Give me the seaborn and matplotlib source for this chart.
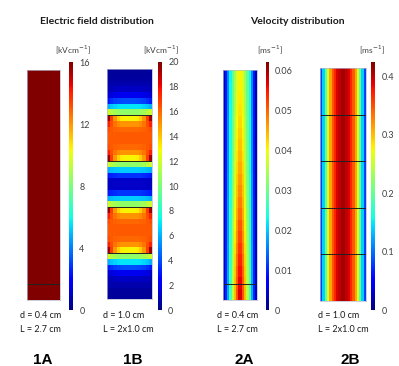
import numpy as np
import seaborn as sns
import matplotlib.pyplot as plt

# ---- data ----
# 1A: uniform field, d = 0.4 cm
field_1a = [16.0]
line_1a = [0.93]          # boundary line, fraction of channel length from top

# 1B: axial field along the channel (top -> bottom), centre line and wall
e1b_centre = [0.5, 0.6, 0.8, 1.2, 2.0, 4.0, 7.0, 10.5,
              13.0, 15.0, 16.0, 16.3, 16.3, 16.0, 15.0, 13.0,
              10.5, 6.5, 3.5, 1.3, 1.3, 3.5, 6.5, 10.5,
              13.0, 15.0, 16.0, 16.3, 16.3, 16.0, 15.0, 13.0,
              10.5, 7.0, 4.0, 2.0, 1.2, 0.8, 0.6, 0.5]
e1b_wall = [0.5, 0.6, 0.8, 1.0, 1.5, 3.0, 6.0, 12.0,
            19.5, 17.5, 16.5, 16.3, 16.3, 16.5, 17.5, 19.5,
            12.0, 6.0, 3.0, 1.2, 1.2, 3.0, 6.0, 12.0,
            19.5, 17.5, 16.5, 16.3, 16.3, 16.5, 17.5, 19.5,
            12.0, 6.0, 3.0, 1.5, 1.0, 0.8, 0.6, 0.5]
wall_weight_1b = [1.0, 0.6, 0.3, 0.12, 0.03, 0, 0, 0, 0, 0.03, 0.12, 0.3, 0.6, 1.0]
lines_1b = [0.2, 0.4, 0.6, 0.8]

# 2A: velocity profile across the channel, at the inlet (top) and outlet (bottom)
u2a_top = [0.003, 0.009, 0.016, 0.023, 0.029, 0.034, 0.038, 0.040,
           0.040, 0.038, 0.034, 0.029, 0.023, 0.016, 0.009, 0.003]
u2a_bottom = [0.004, 0.010, 0.018, 0.027, 0.036, 0.044, 0.051, 0.057,
              0.057, 0.051, 0.044, 0.036, 0.027, 0.018, 0.010, 0.004]
develop_2a = [0.0, 0.02, 0.05, 0.08, 0.12, 0.16, 0.2, 0.25, 0.3, 0.36,
              0.42, 0.48, 0.55, 0.62, 0.69, 0.76, 0.83, 0.9, 0.96, 1.0]
line_2a = [0.93]

# 2B: fully developed profile across the channel
u2b = [0.08, 0.14, 0.20, 0.26, 0.31, 0.345, 0.37, 0.39, 0.40, 0.41,
       0.41, 0.40, 0.39, 0.37, 0.345, 0.31, 0.26, 0.20, 0.14, 0.08]
lines_2b = [0.2, 0.4, 0.6, 0.8]

# ---- build 2D fields ----
w = np.array(wall_weight_1b)
grid_1a = np.array([field_1a])
grid_1b = np.outer(e1b_centre, 1 - w) + np.outer(e1b_wall, w)
s = np.array(develop_2a)
grid_2a = np.outer(1 - s, u2a_top) + np.outer(s, u2a_bottom)
grid_2b = np.tile(u2b, (10, 1))

W, H = 399, 366
fig = plt.figure(figsize=(W / 100, H / 100), dpi=100)
plt.rcParams['font.family'] = ['Lato', 'DejaVu Sans']
grey = '#404040'


def rect(x0, y0, x1, y1):
    return [x0 / W, 1 - y1 / H, (x1 - x0) / W, (y1 - y0) / H]


panels = [
    (grid_1a, line_1a, 0, 16, [0, 4, 8, 12, 16], rect(27, 70, 60, 300), rect(69, 62, 73, 310)),
    (grid_1b, lines_1b, 0, 20, list(range(0, 21, 2)), rect(107, 69, 152, 299), rect(158, 62, 162, 310)),
    (grid_2a, line_2a, 0, 0.062, [0, 0.01, 0.02, 0.03, 0.04, 0.05, 0.06], rect(223, 70, 257, 300), rect(266, 62, 269, 310)),
    (grid_2b, lines_2b, 0, 0.424, [0, 0.1, 0.2, 0.3, 0.4], rect(320, 68, 366, 301), rect(371, 62, 375, 310)),
]

for grid, lines, vmin, vmax, ticks, r, cr in panels:
    ax = fig.add_axes(r)
    cax = fig.add_axes(cr)
    sns.heatmap(grid, ax=ax, cbar_ax=cax, cmap='jet', vmin=vmin, vmax=vmax,
                xticklabels=False, yticklabels=False)
    for f in lines:
        ax.axhline(f * grid.shape[0], color='#202020', lw=0.7)
    for sp in ax.spines.values():
        sp.set_visible(True)
        sp.set_color('#b8b8cc')
        sp.set_linewidth(0.5)
    cbar = ax.collections[0].colorbar
    cbar.outline.set_visible(False)
    cbar.set_ticks(ticks)
    cbar.set_ticklabels([f'{t:g}' for t in ticks])
    cax.tick_params(length=0, labelsize=6.5, colors=grey, pad=4.5)

# titles and units
fig.text(97 / W, 1 - 22 / H, 'Electric field distribution', ha='center', va='center',
         fontsize=7.5, fontweight='bold', color='#1a1a1a')
fig.text(297 / W, 1 - 22 / H, 'Velocity distribution', ha='center', va='center',
         fontsize=7.5, fontweight='bold', color='#1a1a1a')
for x, u in [(73, r'[kVcm$^{-1}$]'), (161, r'[kVcm$^{-1}$]'), (270, r'[ms$^{-1}$]'), (372, r'[ms$^{-1}$]')]:
    fig.text(x / W, 1 - 50 / H, u, ha='center', va='center', fontsize=6, color=grey)

# geometry captions
captions = [(20, 'd = 0.4 cm', 'L = 2.7 cm'), (103, 'd = 1.0 cm', 'L = 2x1.0 cm'),
            (217, 'd = 0.4 cm', 'L = 2.7 cm'), (318, 'd = 1.0 cm', 'L = 2x1.0 cm')]
for x, d, l in captions:
    fig.text(x / W, 1 - 316 / H, d, ha='left', va='center', fontsize=6.5, color='#1a1a1a')
    fig.text(x / W, 1 - 330 / H, l, ha='left', va='center', fontsize=6.5, color='#1a1a1a')

for x, lab in [(43, '1A'), (133, '1B'), (244, '2A'), (350, '2B')]:
    fig.text(x / W, 1 - 360 / H, lab, ha='center', va='center', fontsize=11,
             fontweight='bold', family=['Liberation Sans'], color='black')

fig.savefig('out.png', dpi=100)
